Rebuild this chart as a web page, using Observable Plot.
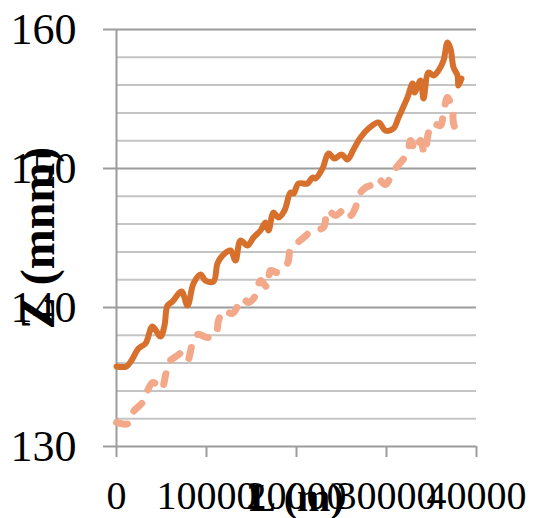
<!DOCTYPE html>
<html>
<head>
<meta charset="utf-8">
<script src="https://cdn.jsdelivr.net/npm/d3@7"></script>
<script src="https://cdn.jsdelivr.net/npm/@observablehq/plot@0.6"></script>
<style>
  html, body { margin: 0; padding: 0; background: #fff; }
  #chart svg { display: block; }
</style>
</head>
<body>
<div id="chart"></div>
<script>
// Series 1 (solid, dark orange)
const solidL = [0,1111,1667,2444,3222,4000,4889,5333,5667,6222,7222,7889,8556,9333,9889,10778,11222,11778,12667,13222,13778,14556,15222,16000,16556,16889,17444,18000,18667,19333,19667,20222,21222,21778,22111,22889,23556,24222,25000,25667,26333,27111,28000,29111,29889,30778,31333,32333,32889,33111,33778,34111,34667,35222,35778,36333,36778,37111,37444,37889,38000,38333];
const solidZ = [135.76,135.76,136.19,137.05,137.41,138.63,137.91,138.71,140.14,140.43,141.15,140.14,141.73,142.37,141.94,141.87,143.17,143.74,144.10,143.38,144.82,144.46,145.04,145.54,146.12,145.54,146.83,146.47,146.98,148.27,148.20,148.92,148.92,149.35,149.28,150.00,151.08,150.72,151.01,150.65,151.37,152.23,152.88,153.31,152.73,152.88,153.67,155.11,156.12,155.47,156.33,155.04,156.91,156.69,157.05,157.77,159.06,158.63,157.27,156.69,155.97,156.47];

// Series 2 (dashed, light salmon)
const dashL = [0,1333,1889,2889,3444,4000,4333,5000,5444,5778,6778,7333,7889,8444,9000,10111,11000,11333,11889,12889,14000,14667,15444,16000,16778,17111,17889,19000,19333,20000,20667,21778,23000,23444,24333,25444,26000,26556,26889,27667,28222,29000,29889,30667,31556,32333,32667,33222,33778,34222,34667,35111,36000,36333,36778,37333,37444,37889,38444];
const dashZ = [131.73,131.65,132.52,133.17,134.03,134.60,134.53,134.10,135.11,136.04,136.55,136.76,136.19,137.41,138.06,137.84,137.99,139.06,139.78,139.57,140.65,140.36,140.86,141.94,141.44,142.66,142.52,143.17,144.24,144.60,144.96,145.54,145.76,146.98,146.62,147.12,146.62,147.19,148.06,148.63,148.78,149.28,148.85,149.71,150.43,151.08,152.01,151.29,152.01,151.08,152.59,153.24,153.09,154.03,155.11,154.17,153.24,152.59,152.37];

const xTicks = [0, 10000, 20000, 30000, 40000];
const yMajor = [130, 140, 150, 160];
const yMinor = [132, 134, 136, 138, 142, 144, 146, 148, 152, 154, 156, 158];
const xTitle = "L (m)";
const yTitle = "Z (mnm)";

const solid = solidL.map((l, i) => ({L: l, Z: solidZ[i]}));
const dashed = dashL.map((l, i) => ({L: l, Z: dashZ[i]}));

const serif = "'Liberation Serif', 'Times New Roman', serif";

const chart = Plot.plot({
  width: 535,
  height: 518,
  marginLeft: 116,
  marginRight: 59,
  marginTop: 29,
  marginBottom: 72,
  x: {domain: [0, 40000], axis: null, label: null},
  y: {domain: [130, 160], axis: null, label: null},
  marks: [
    Plot.ruleY(yMinor, {stroke: "#c4c4c4", strokeWidth: 2}),
    Plot.ruleY(yMajor, {stroke: "#9c9c9c", strokeWidth: 2}),
    Plot.ruleX([0], {stroke: "#9c9c9c", strokeWidth: 2}),
    Plot.axisY(yMajor, {
      label: null, tickSize: 13, tickPadding: 27, stroke: "#9c9c9c", strokeWidth: 2,
      fill: "#000", fontSize: 44, fontFamily: serif, tickFormat: d => String(d)
    }),
    Plot.axisX(xTicks, {
      label: null, tickSize: 11, tickPadding: 23, stroke: "#9c9c9c", strokeWidth: 2,
      fill: "#000", fontSize: 40, fontFamily: serif, tickFormat: d => String(d)
    }),
    Plot.line(dashed, {x: "L", y: "Z", stroke: "#f4a88a", strokeWidth: 7,
      strokeDasharray: "11,15", strokeLinecap: "round", strokeLinejoin: "round", curve: "catmull-rom"}),
    Plot.line(solid, {x: "L", y: "Z", stroke: "#d6702c", strokeWidth: 6,
      strokeLinejoin: "round", strokeLinecap: "round", curve: "catmull-rom"}),
    Plot.text([yTitle], {frameAnchor: "left", textAnchor: "middle", rotate: -90, dx: -63, lineAnchor: "bottom",
      fontSize: 48, fontWeight: "bold", fontFamily: serif, fill: "#000", text: d => d}),
    Plot.text([xTitle], {frameAnchor: "bottom", textAnchor: "middle", dy: 64, lineAnchor: "bottom",
      fontSize: 40, fontWeight: "bold", fontFamily: serif, fill: "#000", text: d => d})
  ]
});
document.getElementById("chart").appendChild(chart);
</script>
</body>
</html>
